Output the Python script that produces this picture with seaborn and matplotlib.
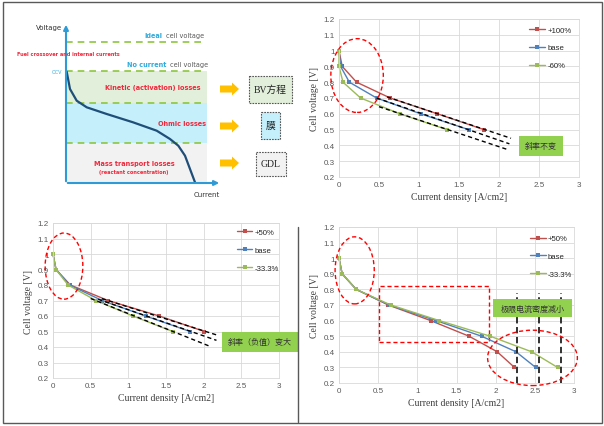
import numpy as np
import pandas as pd
import matplotlib
matplotlib.use("Agg")
import matplotlib.pyplot as plt
import seaborn as sns
from matplotlib.patches import Ellipse, Rectangle, FancyArrow
from matplotlib.ticker import FuncFormatter, MultipleLocator

W, H = 604, 427
sns.set_theme(style="white")
plt.rcParams['font.family'] = ['DejaVu Sans', 'Noto Sans CJK SC']

# ── data ─────────────────────────────────────────────────────
volts6 = [1.0, 0.9, 0.8, 0.7, 0.6, 0.5]
volts8 = [1.0, 0.9, 0.8, 0.7, 0.6, 0.5, 0.4, 0.3]

# top right: kinetic term changed
tr_labels = ['+100%', 'base', '-60%']
tr_plus = [0, 0.04, 0.22, 0.64, 1.23, 1.81]
tr_base = [0, 0.02, 0.13, 0.47, 1.02, 1.62]
tr_minus = [0, 0.0, 0.05, 0.27, 0.76, 1.35]
tr_ext_x = [[0.60, 2.15], [0.47, 2.13], [0.50, 2.10]]
tr_ext_y = [[0.707, 0.445], [0.70, 0.41], [0.645, 0.375]]

# bottom left: ohmic term changed
bl_labels = ['+50%', 'base', '-33.3%']
bl_plus = [0, 0.04, 0.23, 0.73, 1.41, 2.01]
bl_base = [0, 0.04, 0.22, 0.65, 1.23, 1.82]
bl_minus = [0, 0.04, 0.20, 0.57, 1.06, 1.59]
bl_ext_x = [[0.65, 2.19], [0.60, 2.17], [0.50, 2.08]]
bl_ext_y = [[0.712, 0.475], [0.708, 0.443], [0.713, 0.405]]

# bottom right: mass transport term changed
br_labels = ['+50%', 'base', '-33.3%']
br_plus = [0, 0.04, 0.22, 0.63, 1.17, 1.66, 2.02, 2.24]
br_base = [0, 0.04, 0.22, 0.64, 1.24, 1.82, 2.26, 2.51]
br_minus = [0, 0.04, 0.22, 0.66, 1.28, 1.93, 2.46, 2.79]
br_limits = [2.27, 2.555, 2.835]

# schematic polarisation curve (pixel coords of the sketch)
curve_x = [66.7, 70, 76.7, 86.7, 106.7, 133, 156.7, 170, 178.3, 185, 190, 195]
curve_y = [72.7, 90, 101.7, 108.3, 115, 123.3, 131.7, 140, 146.7, 156.7, 170, 183.3]

COLORS = ['#c0504d', '#4f81bd', '#9bbb59']
GRID = '#d9d9d9'
TICK = '#595959'
SERIF = ['Liberation Serif', 'DejaVu Serif']
CJK = ['Noto Sans CJK SC', 'DejaVu Sans']
RED_TXT = '#f0283c'

fig = plt.figure(figsize=(W / 100, H / 100), dpi=100)

# ── schematic (top left) ─────────────────────────────────────
ax0 = fig.add_axes([0, 0, 1, 1])
ax0.set_xlim(0, W)
ax0.set_ylim(H, 0)
ax0.axis('off')

ax0.add_patch(Rectangle((66, 72), 141, 32, fc='#e2efda', ec='none'))
ax0.add_patch(Rectangle((66, 104), 141, 40, fc='#c4effb', ec='none'))
ax0.add_patch(Rectangle((66, 144), 141, 40, fc='#f2f2f2', ec='none'))
for yy in [43, 72, 104, 144]:
    ax0.plot([66, 205], [yy, yy], color='#8cc63e', lw=1.2, dashes=(4, 3))

ax0.plot(curve_x, curve_y, color='#1f4e79', lw=1.6)
ax0.annotate('', xy=(66, 23), xytext=(66, 185),
             arrowprops=dict(arrowstyle='-|>', color='#2e9bd6', lw=1.5, mutation_scale=7))
ax0.annotate('', xy=(222, 184), xytext=(65, 184),
             arrowprops=dict(arrowstyle='-|>', color='#2e9bd6', lw=1.5, mutation_scale=7))

ax0.text(62, 28, 'Voltage', ha='right', va='center', fontsize=5, color='#333333')
ax0.text(220, 195, 'Current', ha='right', va='center', fontsize=5, color='#333333')
ax0.text(144, 36, 'Ideal', ha='left', va='center', fontsize=4.7, color='#2eaadc', weight='bold')
ax0.text(166, 36, 'cell voltage', ha='left', va='center', fontsize=4.7, color='#595959')
ax0.text(17, 54, 'Fuel crossover and internal currents', ha='left', va='center',
         fontsize=3.6, color=RED_TXT, weight='bold')
ax0.text(127, 65, 'No current', ha='left', va='center', fontsize=4.7, color='#2eaadc', weight='bold')
ax0.text(170, 65, 'cell voltage', ha='left', va='center', fontsize=4.7, color='#595959')
ax0.text(62, 73, 'OCV', ha='right', va='center', fontsize=3.5, color='#3aaee0')
ax0.text(153, 88, 'Kinetic (activation) losses', ha='center', va='center',
         fontsize=4.7, color=RED_TXT, weight='bold')
ax0.text(182, 124, 'Ohmic losses', ha='center', va='center',
         fontsize=4.7, color=RED_TXT, weight='bold')
ax0.text(134, 164, 'Mass transport losses', ha='center', va='center',
         fontsize=4.7, color=RED_TXT, weight='bold')
ax0.text(134, 173, '(reactant concentration)', ha='center', va='center',
         fontsize=3.6, color=RED_TXT, weight='bold')

for yy in [90, 127, 164]:
    ax0.add_patch(FancyArrow(220, yy, 19, 0, width=7, head_width=13, head_length=7,
                             length_includes_head=True, color='#ffc000', ec='none'))

boxes = [((249, 77), 43, 27, '#e2efda', 'BV方程'),
         ((261, 113), 19, 27, '#c4effb', '膜'),
         ((256, 153), 30, 24, '#f2f2f2', 'GDL')]
for (bx, by), bw, bh, fc, txt in boxes:
    ax0.add_patch(Rectangle((bx, by), bw, bh, fc=fc, ec='#555555', lw=0.8, ls=(0, (1.5, 1))))
    ax0.text(bx + bw / 2, by + bh / 2, txt, ha='center', va='center', fontsize=7,
             color='#222222', family=['Liberation Serif', 'Noto Sans CJK SC'])


# ── charts ───────────────────────────────────────────────────
def px_rect(left, right, top, bottom):
    return [left / W, (H - bottom) / H, (right - left) / W, (bottom - top) / H]


def chart(rect, labels, series, volts, legend_anchor):
    ax = fig.add_axes(rect)
    df = pd.DataFrame({
        'j': np.concatenate(series),
        'V': np.tile(volts, len(series)),
        'case': np.repeat(labels, len(volts)),
    })
    sns.lineplot(data=df, x='j', y='V', hue='case', hue_order=labels,
                 palette=COLORS, sort=False, estimator=None, marker='s',
                 markersize=2.6, markeredgewidth=0, lw=1.0, clip_on=False, ax=ax)
    ax.set_xlim(0, 3)
    ax.set_ylim(0.2, 1.2)
    ax.xaxis.set_major_locator(MultipleLocator(0.5))
    ax.yaxis.set_major_locator(MultipleLocator(0.1))
    fmt = FuncFormatter(lambda v, p: f'{v:g}')
    ax.xaxis.set_major_formatter(fmt)
    ax.yaxis.set_major_formatter(fmt)
    ax.grid(True, color=GRID, lw=0.6)
    ax.set_axisbelow(True)
    for s in ax.spines.values():
        s.set_color(GRID)
        s.set_linewidth(0.6)
    ax.tick_params(length=0, labelsize=5.8, labelcolor=TICK, pad=3)
    for t in ax.get_xticklabels() + ax.get_yticklabels():
        t.set_family(['Liberation Sans'])
    ax.set_xlabel('Current density [A/cm2]', family=SERIF, fontsize=7, color='#404040', labelpad=3)
    ax.set_ylabel('Cell voltage [V]', family=SERIF, fontsize=7, color='#404040', labelpad=3)
    handles, labs = ax.get_legend_handles_labels()
    ax.legend(handles, labs, loc='upper left', bbox_to_anchor=legend_anchor, frameon=False,
              labelspacing=1.35, handlelength=2.0, handletextpad=0.3,
              borderaxespad=0, prop={'family': 'Liberation Sans', 'size': 5.6})
    return ax


def red_ellipse(ax, center, w, h):
    ax.add_patch(Ellipse(center, w, h, fill=False, ec='#ff0000', lw=1.0,
                         ls=(0, (3, 2)), clip_on=False, zorder=5))


ax1 = chart(px_rect(339, 579, 20, 178), tr_labels, [tr_plus, tr_base, tr_minus], volts6, (0.78, 0.975))
for xs, ys in zip(tr_ext_x, tr_ext_y):
    ax1.plot(xs, ys, color='black', lw=1.0, dashes=(3, 2.2), clip_on=False)
red_ellipse(ax1, (0.226, 0.842), 0.656, 0.467)

ax2 = chart(px_rect(53, 279, 224, 379), bl_labels, [bl_plus, bl_base, bl_minus], volts6, (0.8, 0.985))
for xs, ys in zip(bl_ext_x, bl_ext_y):
    ax2.plot(xs, ys, color='black', lw=1.0, dashes=(3, 2.2), clip_on=False)
red_ellipse(ax2, (0.146, 0.922), 0.50, 0.427)

ax3 = chart(px_rect(339, 574, 228, 384), br_labels, [br_plus, br_base, br_minus], volts8, (0.8, 0.97))
ax3.vlines(br_limits, 0.2, 0.778, color='#222222', lw=1.3, linestyles=(0, (3.5, 2)))
red_ellipse(ax3, (0.2, 0.922), 0.50, 0.43)
red_ellipse(ax3, (2.47, 0.361), 1.146, 0.355)
ax3.add_patch(Rectangle((0.507, 0.461), 1.406, 0.36, fill=False, ec='#ff0000', lw=1.0,
                        ls=(0, (3, 2))))

# ── overlay: green notes and frame ───────────────────────────
ov = fig.add_axes([0, 0, 1, 1], facecolor='none')
ov.set_xlim(0, W)
ov.set_ylim(H, 0)
ov.axis('off')
notes = [((519, 137), 44, 20, '斜率不变'),
         ((222, 333), 76, 20, '斜率（负值）变大'),
         ((493, 300), 79, 18, '极限电流密度减小')]
for (nx, ny), nw, nh, txt in notes:
    ov.add_patch(Rectangle((nx, ny), nw, nh, fc='#92d050', ec='none'))
    ov.text(nx + nw / 2, ny + nh / 2, txt, ha='center', va='center', fontsize=5.8,
            color='#333333', family=CJK)

ov.add_patch(Rectangle((2.5, 2.5), 599, 421, fill=False, ec='#595959', lw=1.0))
ov.plot([298, 298], [228, 423], color='#595959', lw=1.0)

fig.savefig('out.png', dpi=100)
